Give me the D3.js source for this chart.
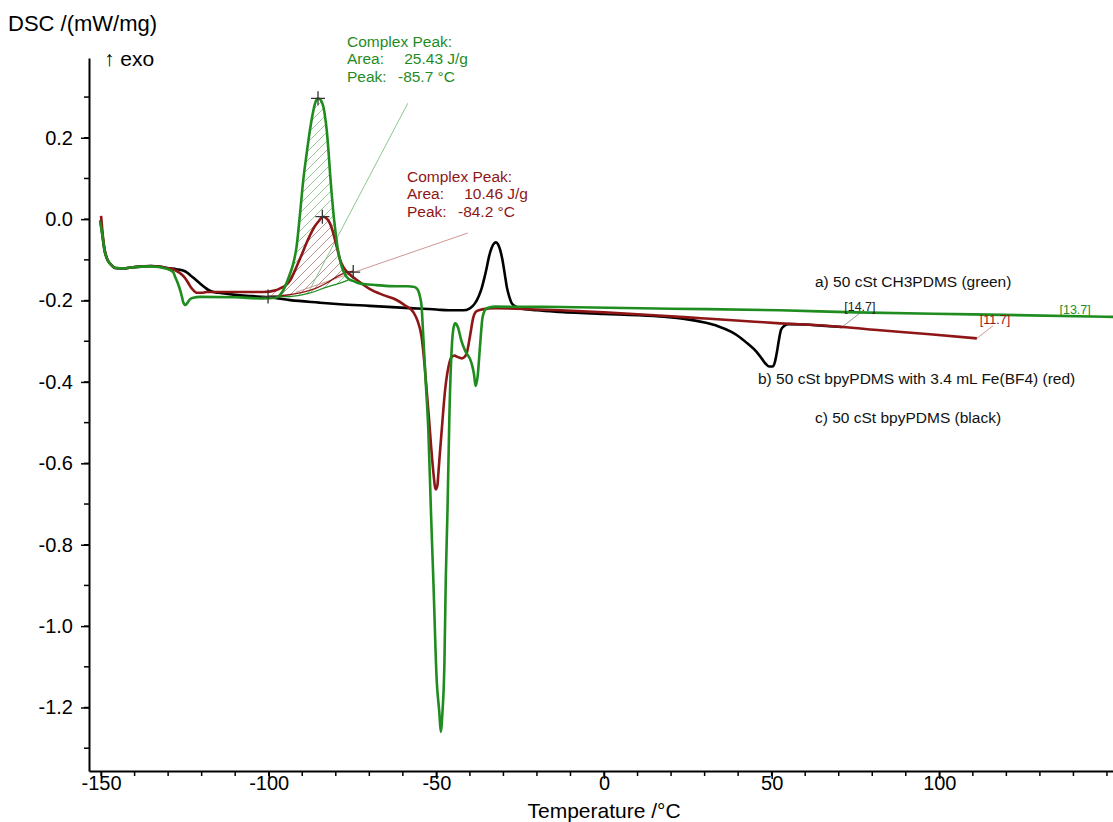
<!DOCTYPE html>
<html><head><meta charset="utf-8">
<script src="https://cdn.jsdelivr.net/npm/d3@7"></script>
<style>
body{margin:0;background:#fff}
svg{display:block}
text{font-family:"Liberation Sans",Arial,Helvetica,sans-serif}
</style>
</head><body>
<svg id="chart" width="1113" height="822"></svg>
<script>
// ---------------- data ----------------
const xTickValues = [-150, -100, -50, 0, 50, 100];
const yTickValues = [-1.2, -1.0, -0.8, -0.6, -0.4, -0.2, 0.0, 0.2];
const xMinorTicks = [-150,-140,-130,-120,-110,-100,-90,-80,-70,-60,-50,-40,-30,-20,-10,0,10,20,30,40,50,60,70,80,90,100,110,120,130,140,150];
const yMinorTicks = [-1.3,-1.2,-1.1,-1.0,-0.9,-0.8,-0.7,-0.6,-0.5,-0.4,-0.3,-0.2,-0.1,0.0,0.1,0.2,0.3];

const seriesLabels = [
  "a) 50 cSt CH3PDMS (green)",
  "b) 50 cSt bpyPDMS with 3.4 mL Fe(BF4) (red)",
  "c) 50 cSt bpyPDMS (black)"
];

// c) black curve  [T (°C), DSC (mW/mg)]
const blackCurve = [
  [-150.2,-0.003],[-149.6,-0.04],[-149.0,-0.075],[-148.2,-0.098],[-147.0,-0.112],[-145.8,-0.12],
  [-143.4,-0.121],[-140.4,-0.118],[-137,-0.116],[-135.2,-0.115],[-132,-0.117],[-130.4,-0.12],
  [-127.5,-0.123],[-125,-0.128],[-123.5,-0.137],[-122,-0.147],[-120.5,-0.158],[-119,-0.168],
  [-118,-0.174],[-116.5,-0.179],[-115,-0.181],[-110,-0.186],[-105,-0.189],[-100,-0.192],
  [-93.6,-0.199],[-85,-0.205],[-78.7,-0.209],[-70,-0.213],[-59.3,-0.218],[-50,-0.222],
  [-46.4,-0.224],[-42,-0.224],[-40,-0.219],[-38.5,-0.207],[-37.3,-0.188],[-36.5,-0.17],
  [-35.7,-0.145],[-35,-0.12],[-34.3,-0.092],[-33.5,-0.07],[-32.7,-0.059],[-32.2,-0.057],
  [-31.6,-0.062],[-31.0,-0.075],[-30.3,-0.1],[-29.6,-0.135],[-29.0,-0.166],[-28.2,-0.192],
  [-27.5,-0.207],[-26.3,-0.215],[-25.1,-0.219],[-20,-0.224],[-13.1,-0.228],[0,-0.233],
  [10,-0.236],[18,-0.24],[24,-0.245],[30,-0.254],[34,-0.263],[38,-0.277],[40.5,-0.29],
  [43,-0.307],[45.5,-0.326],[47,-0.342],[48.3,-0.356],[49.3,-0.362],[50.2,-0.362],[51,-0.35],
  [51.6,-0.325],[52.2,-0.295],[52.8,-0.272],[53.8,-0.262],[55,-0.258],[60,-0.259],[65,-0.262],[71,-0.265]
];

// b) red curve
const redCurve = [
  [-150.0,0.008],[-149.6,-0.03],[-149.0,-0.072],[-148.2,-0.097],[-147.0,-0.112],[-145.8,-0.12],
  [-143.4,-0.121],[-140.4,-0.118],[-135.2,-0.115],[-130.4,-0.12],[-128,-0.125],[-126.4,-0.133],
  [-125.3,-0.141],[-124.5,-0.15],[-123.7,-0.161],[-123.0,-0.17],[-122.2,-0.177],[-121.5,-0.181],
  [-120,-0.181],[-118.5,-0.179],[-110,-0.179],[-101.6,-0.179],[-98,-0.175],[-96.6,-0.17],
  [-95,-0.163],[-93.6,-0.15],[-91.7,-0.117],[-90.2,-0.088],[-88.7,-0.058],[-87.3,-0.033],
  [-86.2,-0.017],[-85,-0.004],[-83.9,0.006],[-82.8,0.002],[-81.7,-0.011],[-80.9,-0.03],
  [-80.2,-0.052],[-79.4,-0.078],[-78.7,-0.1],[-77.7,-0.118],[-76.7,-0.129],[-74.8,-0.143],
  [-72,-0.16],[-69.8,-0.172],[-66,-0.186],[-62,-0.198],[-59.3,-0.212],[-56.9,-0.228],
  [-55.6,-0.25],[-54.4,-0.29],[-53.5,-0.36],[-52.9,-0.42],[-52.2,-0.49],[-51.6,-0.555],
  [-50.9,-0.622],[-50.2,-0.664],[-49.7,-0.655],[-49.4,-0.624],[-48.9,-0.57],[-48.4,-0.518],
  [-47.4,-0.42],[-46.4,-0.363],[-45.4,-0.338],[-44.5,-0.335],[-43.9,-0.338],[-42.4,-0.342],
  [-41.5,-0.338],[-40.9,-0.328],[-40.0,-0.289],[-39.0,-0.242],[-38.0,-0.226],[-36,-0.221],
  [-32.5,-0.219],[-20,-0.222],[-13,-0.224],[0,-0.229],[15,-0.236],[30,-0.244],[45,-0.252],
  [52.5,-0.256],[60,-0.259],[71,-0.265],[82.3,-0.273],[97.2,-0.283],[111.2,-0.293]
];

// a) green curve
const greenCurve = [
  [-150.3,-0.005],[-149.6,-0.04],[-149.0,-0.075],[-148.2,-0.098],[-147.0,-0.112],[-145.8,-0.12],
  [-143.4,-0.121],[-140.4,-0.118],[-135.2,-0.116],[-130.4,-0.122],[-128.5,-0.13],[-127.9,-0.142],
  [-127.0,-0.16],[-126.4,-0.175],[-125.9,-0.19],[-125.5,-0.204],[-124.8,-0.211],[-124.2,-0.205],
  [-123.5,-0.197],[-122.5,-0.193],[-120.5,-0.191],[-110,-0.192],[-101.6,-0.195],[-98,-0.193],
  [-96.6,-0.186],[-95.6,-0.174],[-94.6,-0.155],[-93.6,-0.133],[-92.7,-0.11],[-91.7,-0.068],
  [-90.7,0.01],[-89.7,0.096],[-88.7,0.16],[-87.7,0.219],[-86.9,0.258],[-86.2,0.284],
  [-85.5,0.296],[-84.9,0.296],[-84.3,0.29],[-83.7,0.276],[-83.2,0.252],[-82.7,0.219],
  [-82.2,0.17],[-81.7,0.112],[-81.2,0.06],[-80.7,0.014],[-80.1,-0.03],[-79.5,-0.068],
  [-78.9,-0.095],[-78.2,-0.117],[-77.3,-0.135],[-76.3,-0.146],[-74.5,-0.153],[-72.8,-0.158],
  [-67.8,-0.162],[-62,-0.165],[-58.5,-0.165],[-56.9,-0.166],[-56,-0.169],[-55.4,-0.176],
  [-54.9,-0.19],[-54.4,-0.215],[-54.0,-0.273],[-53.2,-0.396],[-52.4,-0.518],[-51.6,-0.722],
  [-50.9,-0.887],[-49.9,-1.133],[-49.1,-1.214],[-48.7,-1.26],[-48.2,-1.214],[-47.6,-1.091],
  [-47.2,-0.887],[-46.7,-0.722],[-46.1,-0.477],[-45.4,-0.314],[-44.9,-0.268],[-44.4,-0.256],
  [-43.6,-0.265],[-42.6,-0.297],[-41.5,-0.322],[-39.5,-0.354],[-38.8,-0.38],[-38.3,-0.41],
  [-37.7,-0.387],[-37.0,-0.314],[-36.2,-0.24],[-35.0,-0.219],[-32.5,-0.215],[-13,-0.216],
  [20,-0.22],[52.5,-0.224],[75,-0.229],[110,-0.234],[151.8,-0.24]
];

// peak-evaluation baselines (sigmoidal)
const greenBaseline = [[-100.2,-0.19],[-93.6,-0.19],[-88,-0.182],[-82.7,-0.167],[-79,-0.158],[-76.3,-0.15]];
const redBaseline   = [[-100.2,-0.19],[-95,-0.187],[-90,-0.18],[-86,-0.17],[-82.7,-0.157],[-80,-0.143],[-77.7,-0.133],[-74.8,-0.128]];

// evaluation markers (+)
const peakMarkers = [[-100.2,-0.19],[-85.3,0.297],[-84.0,0.006],[-74.8,-0.13]];

// annotation leader lines
const greenLeader = [[-58.5,0.285],[-88.5,-0.185]];
const redLeader   = [[-40.6,-0.034],[-92,-0.18]];
const blackEndLeader = [[71,-0.265],[76.3,-0.231]];
const redEndLeader   = [[111.2,-0.293],[116,-0.262]];

const greenAnno = {title:"Complex Peak:", area:"25.43 J/g", peak:"-85.7 °C"};
const redAnno   = {title:"Complex Peak:", area:"10.46 J/g", peak:"-84.2 °C"};
const endLabels = ["[14.7]", "[11.7]", "[13.7]"];

// ---------------- drawing ----------------
const GREEN = "#1f8c1f", RED = "#8e1616", BLACK = "#000";
const svg = d3.select("#chart");
const padL = 89, padR = 1113, padT = 58, padB = 771;
const x = d3.scaleLinear().domain([-153.6, 151.8]).range([padL, padR]);
const y = d3.scaleLinear().domain([-1.356, 0.396]).range([padB, padT]);

const defs = svg.append("defs");
function hatch(id, color){
  const p = defs.append("pattern").attr("id", id).attr("patternUnits","userSpaceOnUse")
    .attr("width", 9).attr("height", 9);
  p.append("path").attr("d","M-2,2 L2,-2 M0,9 L9,0 M7,11 L11,7")
    .attr("stroke", color).attr("stroke-width", 0.8).attr("fill","none");
}
hatch("hg", "#7fb77f");
hatch("hr", "#c48a8a");

// axes
const yAxis = d3.axisLeft(y).tickValues(yTickValues).tickSize(8).tickSizeOuter(0).tickPadding(8)
  .tickFormat(d => d.toFixed(1));
const gy = svg.append("g").attr("transform", `translate(${padL},0)`).call(yAxis);
gy.selectAll("text").attr("font-size", 20).attr("fill","#000").style("font-family",'"Liberation Sans",Arial,sans-serif');
gy.select(".domain").attr("stroke-width", 2);
gy.selectAll(".tick line").attr("stroke-width", 1.5);
svg.append("g").selectAll("line").data(yMinorTicks).join("line")
  .attr("x1", padL-5).attr("x2", padL).attr("y1", d=>y(d)).attr("y2", d=>y(d))
  .attr("stroke","#000").attr("stroke-width",1.5);

const xAxis = d3.axisBottom(x).tickValues(xTickValues).tickSize(8).tickSizeOuter(0).tickPadding(-3)
  .tickFormat(d => String(d));
const gx = svg.append("g").attr("transform", `translate(0,${padB})`).call(xAxis);
gx.selectAll("text").attr("font-size", 20).attr("fill","#000").style("font-family",'"Liberation Sans",Arial,sans-serif');
gx.select(".domain").attr("stroke-width", 2);
gx.selectAll(".tick line").attr("stroke-width", 1.5);
svg.append("g").selectAll("line").data(xMinorTicks).join("line")
  .attr("x1", d=>x(d)).attr("x2", d=>x(d)).attr("y1", padB).attr("y2", padB+5)
  .attr("stroke","#000").attr("stroke-width",1.5);

svg.append("text").attr("x", 8).attr("y", 31).attr("font-size", 22).text("DSC /(mW/mg)");
svg.append("text").attr("x", 104).attr("y", 66).attr("font-size", 21).text("↑ exo");
svg.append("text").attr("x", (x(0))).attr("y", 818).attr("text-anchor","middle").attr("font-size", 21)
  .text("Temperature /°C");

const lineLin = d3.line().x(d=>x(d[0])).y(d=>y(d[1]));
const lineSmooth = d3.line().x(d=>x(d[0])).y(d=>y(d[1])).curve(d3.curveMonotoneX);

// hatched peak areas
function hatchPoly(curve, base){
  const t0 = base[0][0], t1 = base[base.length-1][0];
  const seg = curve.filter(d => d[0] >= t0 && d[0] <= t1);
  return [base[0], ...seg, ...base.slice().reverse()];
}
svg.append("path").attr("d", lineLin(hatchPoly(greenCurve, greenBaseline))).attr("fill","url(#hg)");
svg.append("path").attr("d", lineLin(hatchPoly(redCurve, redBaseline))).attr("fill","url(#hr)");

// leaders
svg.append("path").attr("d", lineLin(greenLeader)).attr("stroke","#7fc07f").attr("stroke-width",0.9).attr("fill","none");
svg.append("path").attr("d", lineLin(redLeader)).attr("stroke","#c98a8a").attr("stroke-width",0.9).attr("fill","none");
svg.append("path").attr("d", lineLin(blackEndLeader)).attr("stroke","#888").attr("stroke-width",0.9).attr("fill","none");
svg.append("path").attr("d", lineLin(redEndLeader)).attr("stroke","#c98a8a").attr("stroke-width",0.9).attr("fill","none");

// baselines
svg.append("path").attr("d", lineSmooth(greenBaseline)).attr("stroke",GREEN).attr("stroke-width",1.3).attr("fill","none");
svg.append("path").attr("d", lineSmooth(redBaseline)).attr("stroke",RED).attr("stroke-width",1.3).attr("fill","none");

// curves
[[blackCurve, BLACK],[redCurve, RED],[greenCurve, GREEN]].forEach(([data,color]) => {
  svg.append("path").attr("d", lineSmooth(data)).attr("stroke", color).attr("stroke-width", 2.6)
    .attr("fill","none").attr("stroke-linejoin","round");
});

// + markers
svg.append("g").selectAll("path").data(peakMarkers).join("path")
  .attr("d", d => { const px=x(d[0]), py=y(d[1]); return `M${px-7},${py}H${px+7}M${px},${py-7}V${py+7}`; })
  .attr("stroke","#333").attr("stroke-width",1.3);

// annotations
function anno(a, x0, yb, color){
  const g = svg.append("g").attr("fill", color).attr("font-size", 15.5);
  g.append("text").attr("x", x0).attr("y", yb).text(a.title);
  g.append("text").attr("x", x0).attr("y", yb+17.5).text("Area:");
  g.append("text").attr("x", x0+121).attr("y", yb+17.5).attr("text-anchor","end").text(a.area);
  g.append("text").attr("x", x0).attr("y", yb+35).text("Peak:");
  g.append("text").attr("x", x0+108).attr("y", yb+35).attr("text-anchor","end").text(a.peak);
}
anno(greenAnno, 347, 46.5, GREEN);
anno(redAnno, 407, 181.5, RED);

// legend texts
const lg = svg.append("g").attr("font-size", 15.5).attr("fill","#111");
lg.append("text").attr("x", 815).attr("y", 287).text(seriesLabels[0]);
lg.append("text").attr("x", 758).attr("y", 384).text(seriesLabels[1]);
lg.append("text").attr("x", 815).attr("y", 423).text(seriesLabels[2]);

// end labels
const el = svg.append("g").attr("font-size", 12.5);
el.append("text").attr("x", x(76.3)).attr("y", y(-0.226)).attr("text-anchor","middle").attr("fill","#222").text(endLabels[0]);
el.append("text").attr("x", x(116.6)).attr("y", y(-0.258)).attr("text-anchor","middle").attr("fill",RED).text(endLabels[1]);
el.append("text").attr("x", x(140.5)).attr("y", y(-0.233)).attr("text-anchor","middle").attr("fill",GREEN).text(endLabels[2]);
</script>
</body></html>
